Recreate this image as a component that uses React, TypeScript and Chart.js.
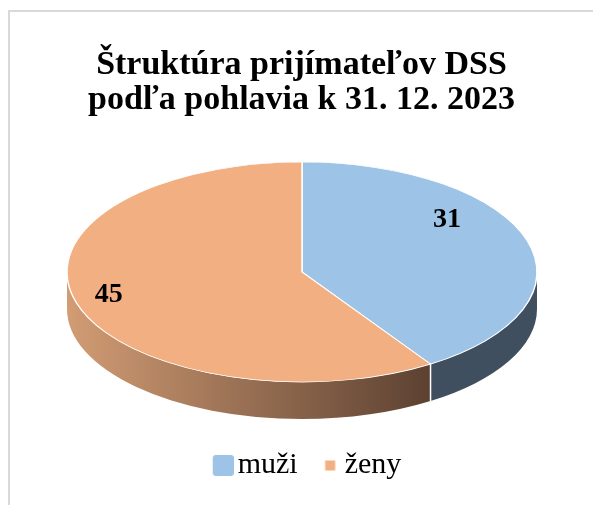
import React, { useEffect, useRef } from "react";
import { Chart, registerables } from "chart.js";

Chart.register(...registerables);

const TITLE_LINES = ["Štruktúra prijímateľov DSS", "podľa pohlavia k 31. 12. 2023"];
const CATEGORIES = ["muži", "ženy"];
const VALUES = [31, 45];
const TOP_COLORS = ["#9DC3E6", "#F2AF82"];
const WALL_COLORS = ["#3F4F5F", null];
const WALL_GRADIENT = ["#D29C74", "#5C4131"];
const LABEL_FRAC = [0.644, 0.858];
const LABEL_DY = [-32, -4];

const LEGEND_FONT = 30;

function makeLegendImage(color: string, size: number): HTMLCanvasElement {
  const extra = LEGEND_FONT / 2 - 4;
  const c = document.createElement("canvas");
  c.width = 21 + 2 * extra;
  c.height = 21;
  const g = c.getContext("2d")!;
  g.fillStyle = color;
  const x0 = 2 * extra + (21 - size) / 2;
  const y0 = (21 - size) / 2;
  g.beginPath();
  if ((g as any).roundRect) (g as any).roundRect(x0, y0, size, size, size > 12 ? 3 : 0);
  else g.rect(x0, y0, size, size);
  g.fill();
  return c;
}

const pie3d = {
  id: "pie3d",
  beforeDatasetsDraw(chart: any, _args: any, opts: any) {
    const ctx = chart.ctx as CanvasRenderingContext2D;
    const meta = chart.getDatasetMeta(0);
    const { cx, cy, ry, depth } = opts;
    ctx.save();
    const boundaries: number[] = [];
    meta.data.forEach((arc: any, i: number) => {
      const p = arc.getProps(["startAngle", "endAngle", "outerRadius"], true);
      const rx = p.outerRadius;
      const a = Math.max(p.startAngle, 0);
      const b = Math.min(p.endAngle, Math.PI);
      if (p.endAngle > 0 && p.endAngle < Math.PI) boundaries.push(p.endAngle);
      if (a < b) {
        ctx.beginPath();
        ctx.ellipse(cx, cy, rx, ry, 0, a, b);
        ctx.ellipse(cx, cy + depth, rx, ry, 0, b, a, true);
        ctx.closePath();
        if (WALL_COLORS[i]) {
          ctx.fillStyle = WALL_COLORS[i] as string;
        } else {
          const x1 = cx + rx * Math.cos(b);
          const x2 = cx + rx * Math.cos(a);
          const gr = ctx.createLinearGradient(x1, 0, x2, 0);
          gr.addColorStop(0, WALL_GRADIENT[0]);
          gr.addColorStop(1, WALL_GRADIENT[1]);
          ctx.fillStyle = gr;
        }
        ctx.fill();
      }
    });
    const rx0 = meta.data[0].outerRadius;
    ctx.strokeStyle = "#ffffff";
    ctx.lineWidth = 1.5;
    boundaries.forEach((ang) => {
      const x = cx + rx0 * Math.cos(ang);
      const y = cy + ry * Math.sin(ang);
      ctx.beginPath();
      ctx.moveTo(x, y);
      ctx.lineTo(x, y + depth);
      ctx.stroke();
    });
    const arc0 = meta.data[0];
    const k = ry / rx0;
    ctx.translate(cx, cy);
    ctx.scale(1, k);
    ctx.translate(-arc0.x, -arc0.y);
  },
  afterDatasetsDraw(chart: any, _args: any, opts: any) {
    const ctx = chart.ctx as CanvasRenderingContext2D;
    ctx.restore();
    const meta = chart.getDatasetMeta(0);
    const { cx, cy, ry } = opts;
    ctx.save();
    ctx.fillStyle = "#000000";
    ctx.font = "bold 28px 'Liberation Serif', 'Times New Roman', serif";
    ctx.textAlign = "center";
    ctx.textBaseline = "middle";
    meta.data.forEach((arc: any, i: number) => {
      const p = arc.getProps(["startAngle", "endAngle", "outerRadius"], true);
      const mid = (p.startAngle + p.endAngle) / 2;
      const x = cx + p.outerRadius * LABEL_FRAC[i] * Math.cos(mid);
      const y = cy + ry * LABEL_FRAC[i] * Math.sin(mid) + LABEL_DY[i];
      ctx.fillText(String(VALUES[i]), x, y);
    });
    ctx.restore();
  },
};

export default function App() {
  const ref = useRef<HTMLCanvasElement | null>(null);
  useEffect(() => {
    if (!ref.current) return;
    const legendImgs = [makeLegendImage(TOP_COLORS[0], 21), makeLegendImage(TOP_COLORS[1], 10)];
    const chart = new Chart(ref.current, {
      type: "pie",
      data: {
        labels: CATEGORIES,
        datasets: [
          {
            data: VALUES,
            backgroundColor: TOP_COLORS,
            borderColor: "#ffffff",
            borderWidth: 1.5,
            radius: 235,
            clip: false,
          } as any,
        ],
      },
      options: {
        animation: false,
        responsive: false,
        maintainAspectRatio: false,
        layout: { padding: { left: 10, right: 0, top: 0, bottom: 14.5 } },
        plugins: {
          title: {
            display: true,
            text: TITLE_LINES,
            color: "#000000",
            font: { family: "'Liberation Serif', 'Times New Roman', serif", size: 34, weight: "bold", lineHeight: 1.05 },
            padding: { top: 47, bottom: 10 },
          },
          legend: {
            display: true,
            position: "bottom",
            labels: {
              color: "#000000",
              font: { family: "'Liberation Serif', 'Times New Roman', serif", size: LEGEND_FONT },
              usePointStyle: true,
              boxWidth: 21,
              boxHeight: 21,
              padding: 11,
              generateLabels: () =>
                CATEGORIES.map((c, i) => ({
                  text: c,
                  fillStyle: TOP_COLORS[i],
                  strokeStyle: TOP_COLORS[i],
                  lineWidth: 0,
                  pointStyle: legendImgs[i],
                  hidden: false,
                  index: i,
                  datasetIndex: 0,
                  fontColor: "#000000",
                })),
            },
          },
          tooltip: { enabled: false },
          pie3d: { cx: 302, cy: 272, ry: 110, depth: 37 },
        } as any,
      },
      plugins: [pie3d],
    });
    return () => chart.destroy();
  }, []);
  return (
    <div style={{ position: "fixed", left: 0, top: 0, width: 593, height: 505, background: "#ffffff", overflow: "hidden" }}>
      <div
        style={{
          position: "absolute",
          left: 8,
          top: 10,
          width: 700,
          height: 600,
          borderLeft: "2px solid #d9d9d9",
          borderTop: "2px solid #d9d9d9",
        }}
      />
      <canvas ref={ref} width={593} height={505} style={{ position: "absolute", left: 0, top: 0, width: 593, height: 505 }} />
    </div>
  );
}
